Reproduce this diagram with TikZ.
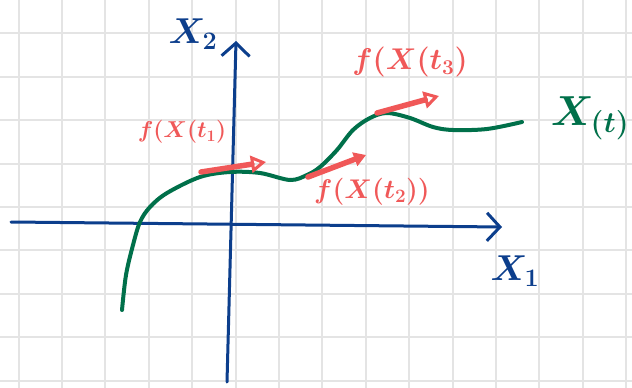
\RequirePackage{fix-cm}
\documentclass[tikz,border=0pt]{standalone}
\usetikzlibrary{arrows.meta}
\definecolor{penblue}{RGB}{12,62,140}
\definecolor{pengreen}{RGB}{0,112,74}
\definecolor{penred}{RGB}{240,88,88}
\definecolor{gridgray}{RGB}{228,228,228}

\begin{document}
\begin{tikzpicture}[x=1pt, y=-1pt,
    axis/.style={penblue, line width=3pt, line cap=round, -{Straight Barb[length=13pt, width=28pt, line width=3pt]}},
    flow/.style={penred, line width=5.5pt, line cap=round, -{Triangle[open, length=15pt, width=17pt, line width=3pt]}},
    flowfill/.style={penred, line width=5.5pt, line cap=round, -{Triangle[length=12pt, width=14pt]}},
    path/.style={pengreen, line width=4pt, line cap=round},
    axlabel/.style={penblue, inner sep=0pt, font=\fontsize{36}{36}\selectfont\boldmath},
    flabel/.style={penred, inner sep=0pt}
]
\useasboundingbox (0,0) rectangle (632,388);
\fill[white] (0,0) rectangle (632,388);

% grid paper
\foreach \gx in {18.6,62,...,640} \draw[gridgray, line width=2pt] (\gx,0) -- (\gx,388);
\foreach \gy in {33.3,76.7,...,390} \draw[gridgray, line width=2pt] (0,\gy) -- (632,\gy);

% axes
\coordinate (xstart) at (11,222);
\coordinate (xend) at (502,227);
\coordinate (ystart) at (227,382);
\coordinate (yend) at (236,41);
\draw[axis] (xstart) -- (xend);
\draw[axis] (ystart) -- (yend);
\node (x1) [axlabel] at (515,271) {$X_1$};
\node (x2) [axlabel] at (193,34) {$X_2$};

% trajectory
\draw[path] plot[smooth, tension=0.55] coordinates {(122,310) (126,275) (133,245) (140,222) (150,207) (167,193) (200,177) (230,172) (260,173) (290,180) (307,175) (320,167) (337,150) (353,130) (370,118) (387,113) (410,118) (433,127) (453,130) (487,129) (522,122)};
\node (xt) [pengreen, inner sep=0pt, font=\fontsize{42}{42}\selectfont\boldmath] at (590,118) {$X_{(t)}$};

% vector field
\coordinate (p1) at (201,172);
\coordinate (q1) at (266,162);
\coordinate (p2) at (308,177);
\coordinate (q2) at (366,155);
\coordinate (p3) at (377,113);
\coordinate (q3) at (439,96);
\draw[flow] (p1) -- (q1);
\draw[flowfill] (p2) -- (q2);
\draw[flow] (p3) -- (q3);
\node (f1) [flabel, font=\fontsize{23}{23}\selectfont\boldmath] at (182,132) {$f(X(t_1)$};
\node (f2) [flabel, font=\fontsize{27}{27}\selectfont\boldmath] at (372,192) {$f(X(t_2))$};
\node (f3) [flabel, font=\fontsize{30}{30}\selectfont\boldmath] at (410,62) {$f(X(t_3)$};

\end{tikzpicture}
\end{document}
